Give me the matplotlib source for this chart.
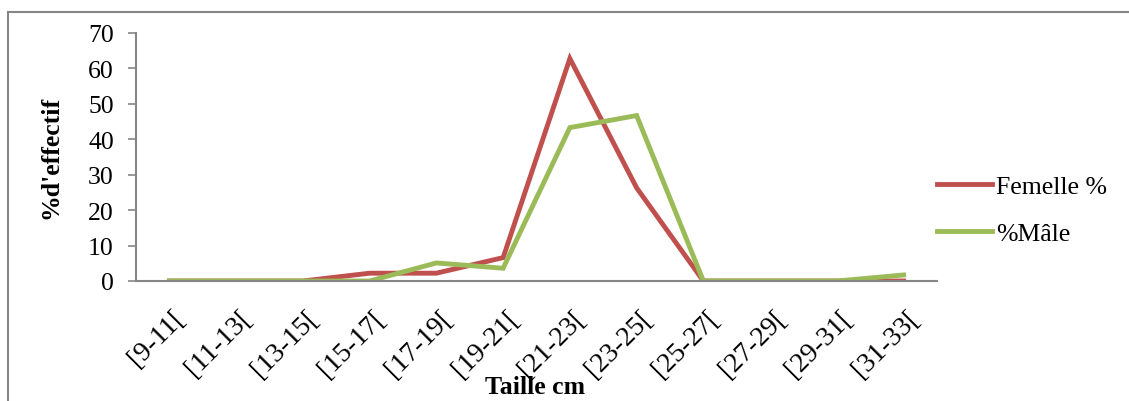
import matplotlib
matplotlib.use("Agg")
import matplotlib.pyplot as plt
from matplotlib.lines import Line2D
from matplotlib.transforms import ScaledTranslation

categories = ["[9-11[", "[11-13[", "[13-15[", "[15-17[", "[17-19[", "[19-21[",
              "[21-23[", "[23-25[", "[25-27[", "[27-29[", "[29-31[", "[31-33["]
femelle = [0, 0, 0, 2.2, 2.2, 6.6, 62.8, 26.3, 0, 0, 0, 0]
male = [0, 0, 0, 0, 5.1, 3.6, 43.3, 46.7, 0, 0, 0, 1.7]
y_ticks = [0, 10, 20, 30, 40, 50, 60, 70]

plt.rcParams["font.family"] = ["Liberation Serif", "DejaVu Serif"]
FS = 18.5

W, H = 1129, 402
fig = plt.figure(figsize=(W / 100, H / 100), dpi=100)
ax = fig.add_axes([136 / W, 1 - 282 / H, (937 - 136) / W, (282 - 34) / H])

x = list(range(len(categories)))
ax.plot(x, femelle, color="#C0504D", lw=3.5, label="Femelle %", solid_joinstyle="miter")
ax.plot(x, male, color="#9BBB59", lw=3.5, label="%Mâle", solid_joinstyle="miter")

ax.set_xlim(-0.5, len(categories) - 0.5)
ax.set_ylim(0, 70)
ax.set_yticks(y_ticks)
ax.set_yticklabels([str(v) for v in y_ticks], fontsize=FS)
ax.set_xticks(x)
ax.set_xticklabels(categories, fontsize=20, rotation=45, ha="right", va="top",
                   rotation_mode="anchor")
ax.tick_params(axis="x", length=0, pad=17)
ax.tick_params(axis="y", length=6, width=1.2, color="#868686", pad=10)
shift = ScaledTranslation(3 / 100, 0, fig.dpi_scale_trans)
for lab in ax.get_xticklabels():
    lab.set_transform(lab.get_transform() + shift)

for side in ("top", "right"):
    ax.spines[side].set_visible(False)
for side in ("left", "bottom"):
    ax.spines[side].set_color("#868686")
    ax.spines[side].set_linewidth(1.5)

ax.set_ylabel("%d'effectif", fontsize=FS, fontweight="bold")
ax.yaxis.set_label_coords(62 / W, 1 - 157 / H, transform=fig.transFigure)
fig.text(535 / W, 1 - 388 / H, "Taille cm", fontsize=FS, fontweight="bold",
         ha="center", va="center")

fig.legend(loc="center left", bbox_to_anchor=(937 / W, 1 - 211 / H), frameon=False,
           fontsize=FS, handlelength=2.15, handletextpad=0.15, labelspacing=0.95,
           borderpad=0, borderaxespad=0)

# outer chart frame
fig.add_artist(Line2D([8 / W, 1.0], [1 - 13 / H, 1 - 13 / H], color="#868686", lw=1.5))
fig.add_artist(Line2D([8 / W, 8 / W], [1 - 13 / H, 0.0], color="#868686", lw=1.5))

fig.savefig("out.png", dpi=100)
